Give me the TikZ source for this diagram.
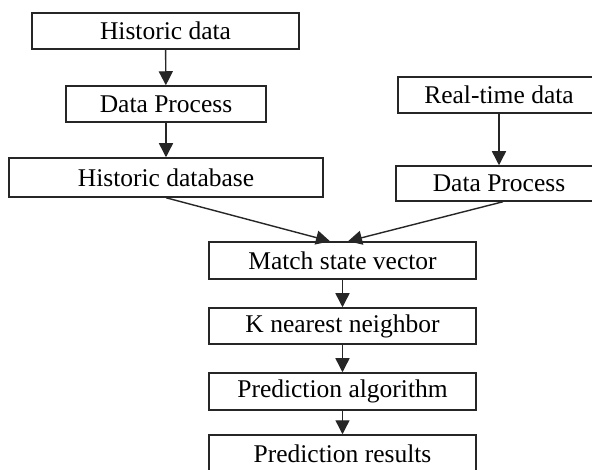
\documentclass[tikz,border=0pt]{standalone}
\usepackage{fontspec}
\setmainfont{Liberation Serif}
\usetikzlibrary{arrows.meta}
\begin{document}
\begin{tikzpicture}[x=1pt,y=-1pt,
  box/.style={draw=black!85, line width=1.5pt, fill=white, inner sep=0pt,
    minimum height=36pt, font=\fontsize{25.5}{29}\selectfont},
  flow/.style={draw=black!85, line width=1.4pt,
    -{Triangle[length=14pt,width=14pt]}}]
\useasboundingbox (0,0) rectangle (592,470);
\clip (0,0) rectangle (592,470);
\fill[white] (0,0) rectangle (592,470);

% historic branch
\node[box, minimum width=267pt] (hist) at (165.5,31) {Historic data};
\node[box, minimum width=200pt] (procL) at (166,104) {Data Process};
\node[box, minimum width=314pt, minimum height=39pt] (db) at (166,177.5) {Historic database};

% real-time branch
\node[box, minimum width=202pt] (rt) at (499,95) {Real-time data};
\node[box, minimum width=206pt, minimum height=35pt] (procR) at (499,183.5) {Data Process};

% main chain
\node[box, minimum width=267pt, minimum height=37pt] (match) at (342.5,260.5) {Match state vector};
\node[box, minimum width=267pt] (knn) at (342.5,326) {K nearest neighbor};
\node[box, minimum width=267pt, minimum height=37pt] (algo) at (342.5,391.5) {Prediction algorithm};
\node[box, minimum width=267pt, minimum height=37pt] (res) at (342.5,453.5) {Prediction results};

% merge points on top of the matching box
\coordinate (inL) at ([xshift=-12.5pt]match.north);
\coordinate (inR) at ([xshift=5.5pt]match.north);
\coordinate (outR) at ([xshift=4pt]procR.south);

\draw[flow] (hist) -- (procL);
\draw[flow] (procL) -- (db);
\draw[flow] (rt) -- (procR);
\draw[flow] (db.south) -- (inL);
\draw[flow] (outR) -- (inR);
\draw[flow] (match) -- (knn);
\draw[flow] (knn) -- (algo);
\draw[flow] (algo) -- (res);
\end{tikzpicture}
\end{document}
